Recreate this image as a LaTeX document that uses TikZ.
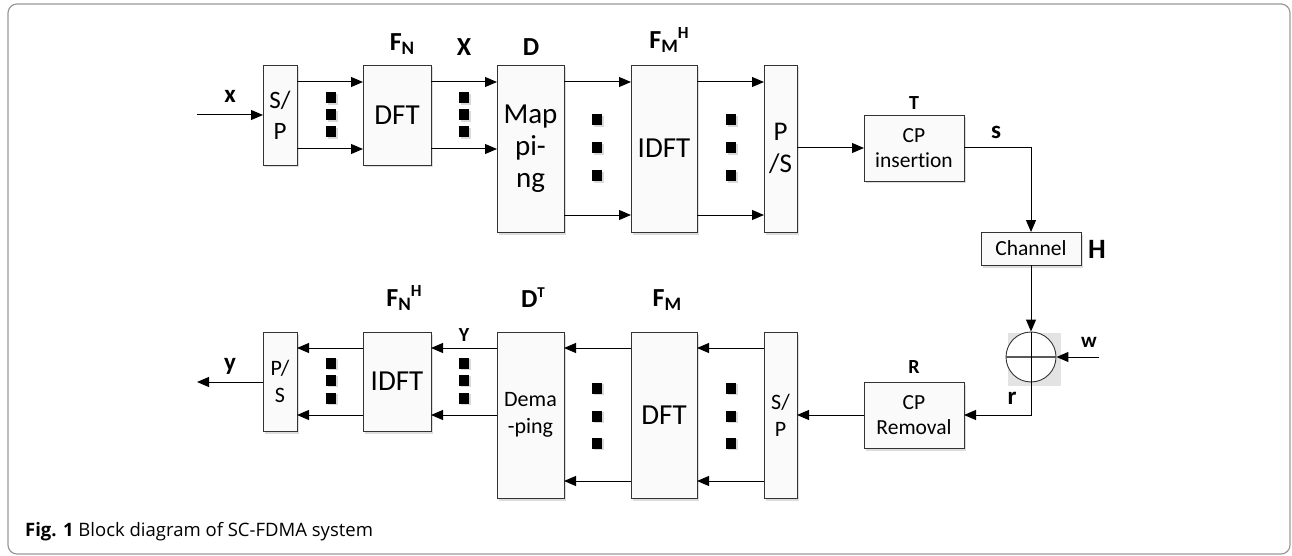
\documentclass[tikz,border=0pt]{standalone}
\usepackage{fontspec}
\setmainfont{Carlito}[Ligatures=NoCommon]
\newfontfamily\capfont{Open Sans}
\usetikzlibrary{arrows.meta,shadows}
\newcommand\lo[2]{\raisebox{-0.35ex}{\fontsize{#1}{#1}\selectfont #2}}
\newcommand\hi[2]{\raisebox{0.8ex}{\fontsize{#1}{#1}\selectfont #2}}
\tikzset{
  blk/.style={draw=black!80, line width=0.9pt, fill=gray!4, inner sep=0pt, outer sep=0pt,
     drop shadow={shadow xshift=2pt, shadow yshift=-2.5pt, fill=gray!45, opacity=0.6},
     align=center, font=\fontsize{29}{32}\selectfont},
  sq/.style={fill=black, minimum width=10pt, minimum height=11pt, inner sep=0pt,
     drop shadow={shadow xshift=1.5pt, shadow yshift=-1.5pt, fill=gray!50, opacity=0.6}},
  arr/.style={line width=1pt, -{Triangle[length=12pt,width=10pt]}},
  ln/.style={line width=1pt},
  lab/.style={font=\bfseries\fontsize{26}{26}\selectfont, inner sep=0pt},
  slab/.style={font=\bfseries\fontsize{20}{20}\selectfont, inner sep=0pt},
  llab/.style={font=\bfseries\fontsize{25}{25}\selectfont, inner sep=0pt}
}
\begin{document}
\begin{tikzpicture}[x=1pt,y=-1pt]
\useasboundingbox (0,0) rectangle (1292,556);
\draw[gray!80, line width=1.2pt, rounded corners=9pt] (8,4) rectangle (1290,554);

% ---------- top row ----------
\node[blk, minimum width=34pt, minimum height=100pt, font=\fontsize{25}{31}\selectfont] (sp1) at (280,115) {S/\\P};
\node[blk, minimum width=68pt, minimum height=100pt] (dft1) at (397,115) {DFT};
\node[blk, minimum width=67pt, minimum height=167pt] (map) at (530.5,148.5) {Map\\pi-\\ng};
\node[blk, minimum width=66pt, minimum height=167pt] (idft1) at (664,148.5) {IDFT};
\node[blk, minimum width=33pt, minimum height=167pt, font=\fontsize{27}{32}\selectfont] (ps1) at (780.5,148.5) {P\\/S};
\node[blk, minimum width=100pt, minimum height=66pt, font=\fontsize{21.5}{25}\selectfont] (cpi) at (914,148) {CP\\insertion};
\node[blk, minimum width=100pt, minimum height=33pt, font=\fontsize{21.5}{25}\selectfont] (ch) at (1031,248.5) {Channel};

\coordinate (xin) at (197,115);
\draw[arr] (xin) -- (sp1.west);
\node[llab] (lx) at (230,96) {x};

\draw[arr] (sp1.east |- 0,82) -- (dft1.west |- 0,82);
\draw[arr] (sp1.east |- 0,149) -- (dft1.west |- 0,149);
\draw[arr] (dft1.east |- 0,82) -- (map.west |- 0,82);
\draw[arr] (dft1.east |- 0,149) -- (map.west |- 0,149);
\draw[arr] (map.east |- 0,82) -- (idft1.west |- 0,82);
\draw[arr] (map.east |- 0,215) -- (idft1.west |- 0,215);
\draw[arr] (idft1.east |- 0,82) -- (ps1.west |- 0,82);
\draw[arr] (idft1.east |- 0,215) -- (ps1.west |- 0,215);
\draw[arr] (ps1.east |- 0,148) -- (cpi.west |- 0,148);

\foreach \i/\yy in {1/98,2/115,3/132} {
  \node[sq] (da\i) at (331,\yy) {};
  \node[sq] (db\i) at (464,\yy) {};
}
\foreach \i/\yy in {1/120,2/148,3/176} {
  \node[sq] (dc\i) at (597,\yy) {};
  \node[sq] (dd\i) at (731,\yy) {};
}

\node[lab] (lfn) at (402,44) {F\lo{19}{N}};
\node[lab] (lX) at (464,47) {X};
\node[lab] (lD) at (531,47) {D};
\node[lab] (lfmh) at (669,40) {F\lo{19}{M}\hi{17}{H}};
\node[slab] (lT) at (914,103) {T};
\node[llab] (ls) at (996,132) {s};
\node[lab, font=\bfseries\fontsize{28}{28}\selectfont] (lH) at (1097,249) {H};

\coordinate (sc) at (1031,148);
\draw[arr] (cpi.east) -- (sc) -- (ch.north);

% ---------- adder ----------
\fill[gray!22] (1008,333) rectangle (1061,386);
\node[draw=black!80, fill=white, circle, minimum size=50pt, inner sep=0pt, line width=0.9pt] (add) at (1031,357) {};
\draw[gray!70!black, line width=1.1pt] (add.west) -- (add.east);
\draw[ln] (add.north) -- (add.south);
\draw[arr] (ch.south) -- (add.north);
\coordinate (win) at (1099,357);
\draw[arr] (win) -- (add.east);
\node[slab, font=\bfseries\fontsize{21}{21}\selectfont] (lw) at (1089,342) {w};

% ---------- bottom row ----------
\node[blk, minimum width=100pt, minimum height=66pt, font=\fontsize{21.5}{25}\selectfont] (cpr) at (914,415) {CP\\Removal};
\node[slab] (lR) at (914,367) {R};
\coordinate (rc) at (1031,415);
\draw[arr] (add.south) -- (rc) -- (cpr.east);
\node[llab] (lr) at (1012,398) {r};

\node[blk, minimum width=33pt, minimum height=166pt, font=\fontsize{22}{27}\selectfont] (sp2) at (780.5,415) {S/\\P};
\node[blk, minimum width=66pt, minimum height=166pt] (dft2) at (664,415) {DFT};
\node[blk, minimum width=67pt, minimum height=166pt, font=\fontsize{22}{27}\selectfont] (dem) at (530.5,415) {Dema\\-ping};
\node[blk, minimum width=68pt, minimum height=99pt] (idft2) at (397,381.5) {IDFT};
\node[blk, minimum width=34pt, minimum height=99pt, font=\fontsize{22}{27}\selectfont] (ps2) at (280,381.5) {P/\\S};

\draw[arr] (cpr.west) -- (sp2.east |- 0,415);
\draw[arr] (sp2.west |- 0,348) -- (dft2.east |- 0,348);
\draw[arr] (sp2.west |- 0,481) -- (dft2.east |- 0,481);
\draw[arr] (dft2.west |- 0,348) -- (dem.east |- 0,348);
\draw[arr] (dft2.west |- 0,481) -- (dem.east |- 0,481);
\draw[arr] (dem.west |- 0,348) -- (idft2.east |- 0,348);
\draw[arr] (dem.west |- 0,415) -- (idft2.east |- 0,415);
\draw[arr] (idft2.west |- 0,348) -- (ps2.east |- 0,348);
\draw[arr] (idft2.west |- 0,415) -- (ps2.east |- 0,415);
\coordinate (yout) at (197,382);
\draw[arr] (ps2.west |- 0,382) -- (yout);

\foreach \i/\yy in {1/363,2/380,3/398} {
  \node[sq] (de\i) at (331,\yy) {};
  \node[sq] (df\i) at (464,\yy) {};
}
\foreach \i/\yy in {1/388,2/416,3/443} {
  \node[sq] (dg\i) at (597,\yy) {};
  \node[sq] (dh\i) at (731,\yy) {};
}

\node[llab] (ly) at (230,366) {y};
\node[slab] (lY) at (464,335) {Y};
\node[lab] (lfnh) at (404,298) {F\lo{19}{N}\hi{17}{H}};
\node[lab] (ldt) at (533,298) {D\hi{15}{T}};
\node[lab] (lfm) at (667,300) {F\lo{19}{M}};

% ---------- caption ----------
\node[anchor=west, inner sep=0pt, font=\capfont\fontsize{18.5}{18.5}\selectfont] (cap) at (25,532) {\textbf{Fig. 1} Block diagram of SC-FDMA system};
\end{tikzpicture}
\end{document}
